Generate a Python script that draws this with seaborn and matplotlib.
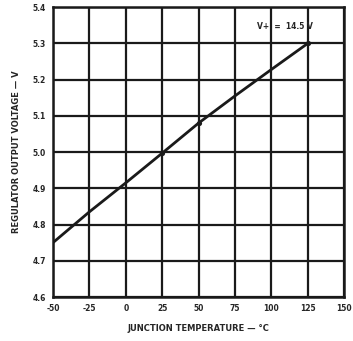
import numpy as np
import pandas as pd
import matplotlib
matplotlib.use("Agg")
import matplotlib.pyplot as plt
import seaborn as sns

# data
temperature = [-50, -25, 0, 25, 50, 75, 100, 125]
voltage = [4.75, 4.835, 4.915, 4.997, 5.08, 5.155, 5.228, 5.30]
dot_temperature = [25, 50, 125]
dot_voltage = [4.997, 5.08, 5.30]
x_ticks = [-50, -25, 0, 25, 50, 75, 100, 125, 150]
y_ticks = [4.6, 4.7, 4.8, 4.9, 5.0, 5.1, 5.2, 5.3, 5.4]
note = "V+  =  14.5 V"

sns.set_style("white")
plt.rcParams["font.family"] = ["DejaVu Sans"]

df = pd.DataFrame({"temp": temperature, "volt": voltage})
dots = pd.DataFrame({"temp": dot_temperature, "volt": dot_voltage})

fig = plt.figure(figsize=(3.53, 3.41), dpi=100)
ax = fig.add_axes([0.150, 0.129, 0.825, 0.850])

sns.lineplot(data=df, x="temp", y="volt", ax=ax, color="#1a1a1a", linewidth=2.0)
sns.scatterplot(data=dots, x="temp", y="volt", ax=ax, color="#1a1a1a", s=14,
                linewidth=0, zorder=3)

ax.set_xlim(-50, 150)
ax.set_ylim(4.6, 5.4)
ax.set_xticks(x_ticks)
ax.set_yticks(y_ticks)
ax.set_xticklabels([str(t) for t in x_ticks], fontsize=5.5, fontweight="bold")
ax.set_yticklabels([f"{t:.1f}" for t in y_ticks], fontsize=5.5, fontweight="bold")
ax.tick_params(length=0, pad=5)
ax.grid(True, color="#1a1a1a", linewidth=1.6)
ax.set_axisbelow(True)
for s in ax.spines.values():
    s.set_color("#1a1a1a")
    s.set_linewidth(1.8)

ax.set_xlabel("JUNCTION TEMPERATURE — °C", fontsize=6, fontweight="bold", labelpad=8)
ax.set_ylabel("REGULATOR OUTPUT VOLTAGE — V", fontsize=6, fontweight="bold", labelpad=8)
ax.text(109, 5.347, note, fontsize=5.5, fontweight="bold", ha="center", va="center")

fig.savefig("out.png", dpi=100)
